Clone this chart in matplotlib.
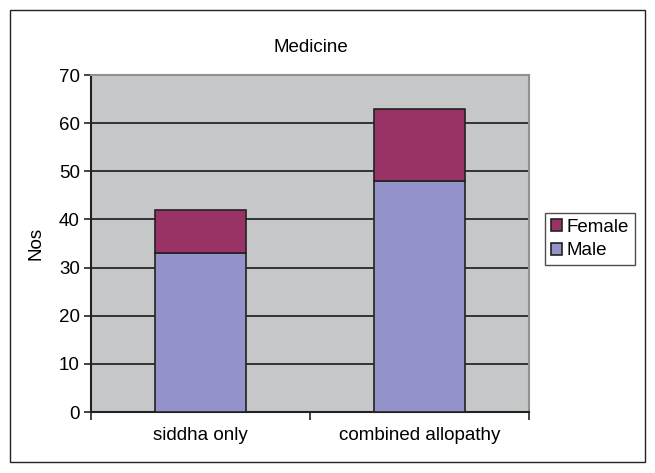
import matplotlib
matplotlib.use("Agg")
import matplotlib.pyplot as plt
from matplotlib.patches import Rectangle

plt.rcParams['font.family'] = ['Liberation Sans', 'DejaVu Sans']

categories = ["siddha only", "combined allopathy"]
male = [33, 48]
female = [9, 15]
yticks = [0, 10, 20, 30, 40, 50, 60, 70]

male_color = "#9393C9"
female_color = "#993366"
plot_bg = "#C6C7C8"
fs = 13.5

fig = plt.figure(figsize=(6.55, 4.73), dpi=100)
fig.patch.set_facecolor("white")

# outer chart border
fig.add_artist(Rectangle((10 / 655, 1 - 462 / 473), 635 / 655, 452 / 473,
                         transform=fig.transFigure, fill=False,
                         edgecolor="#222222", linewidth=1.0))

ax = fig.add_axes([91 / 655, 1 - 412 / 473, 438 / 655, 337 / 473])
ax.set_facecolor(plot_bg)

x = list(range(len(categories)))
width = 0.415
ax.bar(x, male, width, color=male_color, edgecolor="#222222",
       linewidth=1.2, label="Male", zorder=3)
ax.bar(x, female, width, bottom=male, color=female_color,
       edgecolor="#222222", linewidth=1.2, label="Female", zorder=3)

ax.set_xlim(-0.5, len(categories) - 0.5)
ax.set_ylim(0, 70)
ax.set_yticks(yticks)
ax.tick_params(axis="y", labelsize=fs, length=5, width=1.2, direction="out",
               color="#222222", pad=3)
for v in yticks[1:-1]:
    ax.axhline(v, color="#1a1a1a", linewidth=1.2, zorder=1)

# category labels centred under bars, ticks on category boundaries
ax.set_xticks([-0.5, 0.5, 1.5])
ax.set_xticklabels(["", "", ""])
ax.set_xticks(x, minor=True)
ax.set_xticklabels(categories, minor=True, fontsize=fs)
ax.tick_params(axis="x", which="major", length=6, width=1.2, direction="out",
               color="#222222")
ax.tick_params(axis="x", which="minor", length=0, pad=11)

for side in ("left", "bottom"):
    ax.spines[side].set_color("#222222")
    ax.spines[side].set_linewidth(1.5)
for side in ("top", "right"):
    ax.spines[side].set_color("#909090")
    ax.spines[side].set_linewidth(1.5)

ax.set_ylabel("Nos", fontsize=fs, labelpad=10)
fig.text(311 / 655, 1 - 47 / 473, "Medicine", ha="center", va="center",
         fontsize=fs)

handles, labels = ax.get_legend_handles_labels()
leg = fig.legend(handles[::-1], labels[::-1], loc="upper left",
                 bbox_to_anchor=(545 / 655, 1 - 213 / 473), fontsize=fs,
                 frameon=True, fancybox=False, edgecolor="#222222",
                 handlelength=0.6, handleheight=0.6, handletextpad=0.25,
                 borderpad=0.3, labelspacing=0.35, borderaxespad=0)
leg.get_frame().set_linewidth(1.0)

fig.savefig("out.png", dpi=100)
